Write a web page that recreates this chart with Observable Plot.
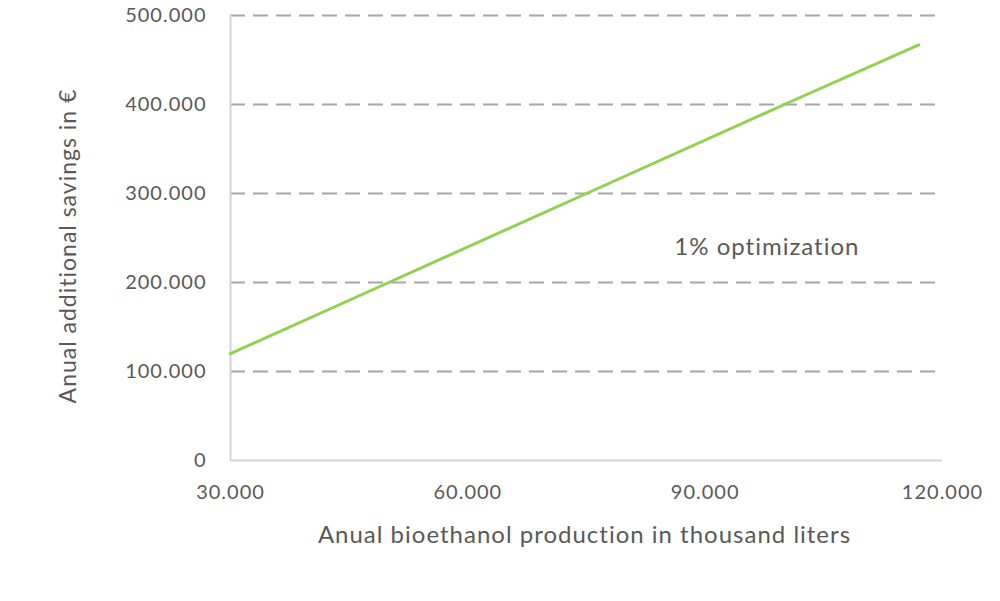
<!DOCTYPE html>
<html>
<head>
<meta charset="utf-8">
<script src="https://cdn.jsdelivr.net/npm/d3@7"></script>
<script src="https://cdn.jsdelivr.net/npm/@observablehq/plot@0.6"></script>
<style>
  html, body { margin: 0; padding: 0; background: #fff; }
  #chart { width: 1000px; height: 601px; }
  #chart svg text { letter-spacing: 1px; }
</style>
</head>
<body>
<div id="chart"></div>
<script>
// Data
const production = [30000, 50000, 75000, 100000, 117000];   // thousand liters
const savings = [120000, 200000, 300000, 400000, 467000];    // €
const xTicks = [30000, 60000, 90000, 120000];
const yTicks = [0, 100000, 200000, 300000, 400000, 500000];
const gridValues = [100000, 200000, 300000, 400000, 500000];
const seriesLabel = "1% optimization";
const seriesLabelPos = {x: 97800, y: 239000};
const xTitle = "Anual bioethanol production in thousand liters";
const yTitle = "Anual additional savings in €";

const rows = production.map((p, i) => ({production: p, savings: savings[i]}));
const fmt = d3.formatLocale({decimal: ",", thousands: ".", grouping: [3], currency: ["", "€"]}).format(",");

const textColor = "#595959";
const fontFamily = "Lato, 'Open Sans', sans-serif";

const chart = Plot.plot({
  width: 1000,
  height: 601,
  marginLeft: 230,
  marginRight: 58,
  marginTop: 15,
  marginBottom: 141,
  style: {fontFamily, fontSize: "20px", color: textColor, background: "#fff"},
  x: {domain: [30000, 120000]},
  y: {domain: [0, 500000]},
  marks: [
    Plot.ruleY(gridValues, {stroke: "#a6a6a6", strokeWidth: 2, strokeDasharray: "15,8"}),
    Plot.ruleY([0], {stroke: "#d3d3d3", strokeWidth: 2}),
    Plot.ruleX([30000], {stroke: "#d3d3d3", strokeWidth: 2}),
    Plot.axisX({ticks: xTicks, tickSize: 0, tickPadding: 24, tickFormat: fmt, label: null, fill: textColor}),
    Plot.axisY({ticks: yTicks, tickSize: 0, tickPadding: 24, tickFormat: fmt, label: null, fill: textColor}),
    Plot.line(rows, {x: "production", y: "savings", stroke: "#92d050", strokeWidth: 3}),
    Plot.text([seriesLabel], {x: () => seriesLabelPos.x, y: () => seriesLabelPos.y, fill: textColor, fontSize: 24}),
    Plot.text([xTitle], {frameAnchor: "bottom", textAnchor: "middle", dy: 82, dx: -2, fill: textColor, fontSize: 24}),
    Plot.text([yTitle], {frameAnchor: "left", textAnchor: "middle", rotate: -90, dx: -162, dy: 8, fill: textColor, fontSize: 23})
  ]
});
document.getElementById("chart").appendChild(chart);
</script>
</body>
</html>
